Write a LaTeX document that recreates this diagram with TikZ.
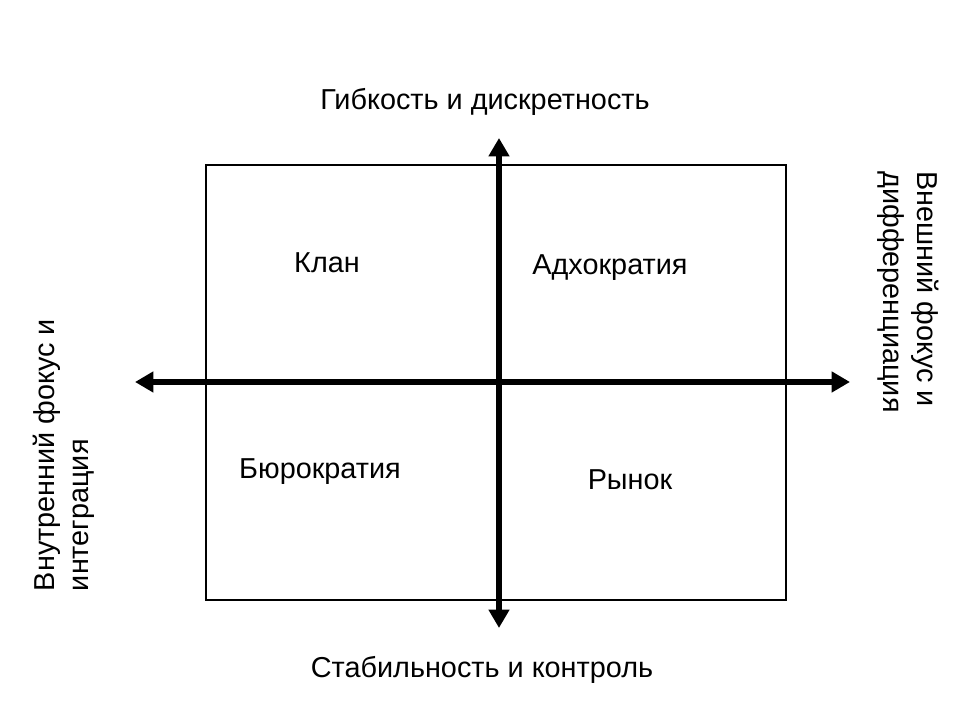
\documentclass[tikz,border=0pt]{standalone}
\usepackage{fontspec}
\setmainfont{Liberation Sans}
\usepackage{tikz}
\usetikzlibrary{arrows.meta,positioning,calc}
\tikzset{
  axis/.style={{Triangle[length=4.6mm,width=5mm]}-{Triangle[length=4.6mm,width=5mm]},line width=1.6mm},
  frame/.style={draw,line width=0.9pt},
  qlabel/.style={font=\fontsize{20.5}{23}\selectfont,inner sep=0pt},
  alabel/.style={font=\fontsize{20.5}{23}\selectfont,inner sep=0pt},
  slabel/.style={font=\fontsize{20.5}{24.5}\selectfont,inner sep=0pt,align=left}
}
\begin{document}
\begin{tikzpicture}[x=0.025cm,y=0.025cm]
\useasboundingbox (0,0) rectangle (960,720);
\node[frame,minimum width=14.5cm,minimum height=10.875cm,inner sep=0pt] (box) at (496,337.5) {};
\coordinate (W) at (135,338);
\coordinate (E) at (850,338);
\coordinate (N) at (499,582);
\coordinate (S) at (499,92);
\draw[axis] (W) -- (E);
\draw[axis] (S) -- (N);
% quadrants
\node[qlabel] (clan) at (327,457) {Клан};
\node[qlabel] (adhoc) at (610,452) {Адхократия};
\node[qlabel] (bureau) at (320,248) {Бюрократия};
\node[qlabel] (market) at (630,240) {Рынок};
% axis labels
\node[alabel] (top) at (485,618) {Гибкость и дискретность};
\node[alabel] (bottom) at (482,50) {Стабильность и контроль};
\node[slabel,rotate=90] (left) at (64,265) {Внутренний фокус и\\интеграция};
\node[slabel,rotate=-90] (right) at (908,428) {Внешний фокус и\\дифференциация};
\end{tikzpicture}
\end{document}
